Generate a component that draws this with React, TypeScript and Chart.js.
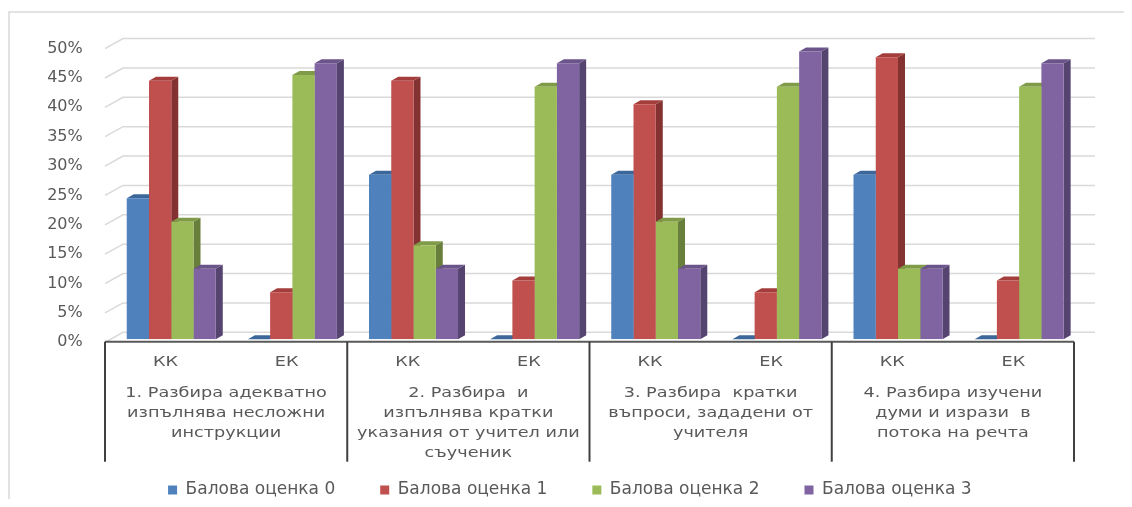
import React, { useEffect, useRef } from 'react';
import { Chart, registerables } from 'chart.js';

Chart.register(...registerables);

// ---------- data ----------
const subCategories = ['КК', 'ЕК', 'КК', 'ЕК', 'КК', 'ЕК', 'КК', 'ЕК'];
const groupLabels = [
  ['1. Разбира адекватно', 'изпълнява несложни', 'инструкции'],
  ['2. Разбира  и', 'изпълнява кратки', 'указания от учител или', 'съученик'],
  ['3. Разбира  кратки', 'въпроси, зададени от', 'учителя'],
  ['4. Разбира изучени', 'думи и изрази  в', 'потока на речта'],
];
const seriesNames = ['Балова оценка 0', 'Балова оценка 1', 'Балова оценка 2', 'Балова оценка 3'];
const score0 = [0.24, 0.0, 0.28, 0.0, 0.28, 0.0, 0.28, 0.0];
const score1 = [0.44, 0.08, 0.44, 0.1, 0.4, 0.08, 0.48, 0.1];
const score2 = [0.2, 0.45, 0.16, 0.43, 0.2, 0.43, 0.12, 0.43];
const score3 = [0.12, 0.47, 0.12, 0.47, 0.12, 0.49, 0.12, 0.47];
const yMin = 0;
const yMax = 0.5;
const yStep = 0.05;

// ---------- styles ----------
const frontColors = ['#4F81BD', '#C0504D', '#9BBB59', '#8064A2'];
const sideColors = ['#3A6290', '#843231', '#687E3B', '#55446F'];
const topColors = ['#3B679B', '#A33E3C', '#7F9B48', '#6A5489'];
const FONT = "'DejaVu Sans', sans-serif";
const TEXT = '#595959';
const DEPTH_X = 7;
const DEPTH_Y = 4;
const FRONT_DX = -5.7;
const FRONT_DY = 3;
const BACK_DX = 12.3;
const BACK_DY = -7;
const TEXT_SX = 1.26;
const LEGEND_PAD = 45;
const LEGEND_FONT = 17;
const LEGEND_SHIFT = 26;
const PAD_RIGHT = 44.3;
const AREA_LEFT = 102.7;

const threeD = {
  id: 'threeD',
  afterLayout(chart: any) {
    const lg = chart.legend;
    if (lg) {
      lg.left += LEGEND_SHIFT;
      lg.right += LEGEND_SHIFT;
    }
  },
  beforeDraw(chart: any) {
    const { ctx, width, height } = chart;
    ctx.save();
    ctx.strokeStyle = '#D9D9D9';
    ctx.lineWidth = 1.5;
    ctx.beginPath();
    ctx.moveTo(1, height + 5);
    ctx.lineTo(1, 4);
    ctx.lineTo(width + 5, 4);
    ctx.stroke();
    ctx.restore();
  },
  beforeDatasetsDraw(chart: any) {
    const { ctx, chartArea: a } = chart;
    const ys = chart.scales.y;
    ctx.save();
    ctx.strokeStyle = '#D9D9D9';
    ctx.lineWidth = 1.5;
    ys.ticks.forEach((t: any) => {
      const py = ys.getPixelForValue(t.value);
      ctx.beginPath();
      ctx.moveTo(a.left + FRONT_DX, py + FRONT_DY);
      ctx.lineTo(a.left + BACK_DX, py + BACK_DY);
      ctx.lineTo(a.right + BACK_DX + 3, py + BACK_DY);
      ctx.stroke();
    });
    const n = chart.data.labels.length;
    for (let ci = 0; ci < n; ci++) {
      chart.data.datasets.forEach((ds: any, di: number) => {
        const meta = chart.getDatasetMeta(di);
        const bar: any = meta.data[ci];
        if (!bar) return;
        const { x, y, base, width } = bar.getProps(['x', 'y', 'base', 'width'], true);
        const l = x - width / 2;
        const r = x + width / 2;
        ctx.fillStyle = sideColors[di];
        ctx.beginPath();
        ctx.moveTo(r, y);
        ctx.lineTo(r + DEPTH_X, y - DEPTH_Y);
        ctx.lineTo(r + DEPTH_X, base - DEPTH_Y);
        ctx.lineTo(r, base);
        ctx.closePath();
        ctx.fill();
        ctx.fillStyle = topColors[di];
        ctx.beginPath();
        ctx.moveTo(l, y);
        ctx.lineTo(l + DEPTH_X, y - DEPTH_Y);
        ctx.lineTo(r + DEPTH_X, y - DEPTH_Y);
        ctx.lineTo(r, y);
        ctx.closePath();
        ctx.fill();
      });
    }
    ctx.restore();
  },
  afterDraw(chart: any) {
    const { ctx, chartArea: a } = chart;
    const xs = chart.scales.x;
    const n = chart.data.labels.length;
    const catW = xs.getPixelForValue(1) - xs.getPixelForValue(0);
    const base = a.bottom + 2.4;
    const boxBottom = a.bottom + 122.4;
    ctx.save();
    ctx.strokeStyle = '#595959';
    ctx.lineWidth = 2;
    const left = xs.getPixelForValue(0) - catW / 2 + FRONT_DX;
    const right = xs.getPixelForValue(n - 1) + catW / 2 + FRONT_DX;
    ctx.beginPath();
    ctx.moveTo(left, base);
    ctx.lineTo(right, base);
    ctx.stroke();
    ctx.strokeStyle = '#404040';
    const seps: number[] = [];
    for (let k = 0; k <= groupLabels.length; k++) {
      const sx = left + k * 2 * catW;
      seps.push(sx);
      ctx.beginPath();
      ctx.moveTo(sx, base);
      ctx.lineTo(sx, boxBottom);
      ctx.stroke();
    }
    ctx.fillStyle = TEXT;
    ctx.font = `14px ${FONT}`;
    ctx.textAlign = 'center';
    ctx.textBaseline = 'middle';
    const put = (s: string, cx: number, cy: number) => {
      ctx.save();
      ctx.translate(cx, cy);
      ctx.scale(TEXT_SX, 1);
      ctx.fillText(s, 0, 0);
      ctx.restore();
    };
    subCategories.forEach((s, i) => {
      put(s, xs.getPixelForValue(i) + FRONT_DX, a.bottom + 23);
    });
    groupLabels.forEach((lines, k) => {
      const cx = (seps[k] + seps[k + 1]) / 2;
      lines.forEach((ln, j) => put(ln, cx, a.bottom + 54 + j * 20));
    });
    ctx.restore();
  },
};

export default function App() {
  const ref = useRef<HTMLCanvasElement | null>(null);
  useEffect(() => {
    if (!ref.current) return;
    const seriesValues = [score0, score1, score2, score3];
    const H = 491;
    const areaBottom = 331.3;
    const legendCenter = 482;
    const legendTop = legendCenter - LEGEND_PAD - LEGEND_FONT / 2;
    const chart = new Chart(ref.current, {
      type: 'bar',
      data: {
        labels: subCategories,
        datasets: seriesValues.map((vals, i) => ({
          label: seriesNames[i],
          data: vals,
          backgroundColor: frontColors[i],
          borderWidth: 0,
          categoryPercentage: 0.735,
          barPercentage: 1,
        })),
      },
      options: {
        animation: false,
        responsive: true,
        maintainAspectRatio: false,
        layout: { padding: { top: 36, right: PAD_RIGHT, left: 0, bottom: 0 } },
        plugins: {
          tooltip: { enabled: false },
          legend: {
            position: 'bottom',
            maxHeight: H - legendTop,
            labels: {
              boxWidth: 9,
              boxHeight: 9,
              padding: LEGEND_PAD,
              color: TEXT,
              font: { family: FONT, size: LEGEND_FONT },
            },
          },
        },
        scales: {
          x: {
            grid: { display: false },
            border: { display: false },
            ticks: { display: false },
            afterFit: (s: any) => {
              s.height = legendTop - areaBottom;
            },
          },
          y: {
            min: yMin,
            max: yMax,
            grid: { display: false, drawTicks: false },
            border: { display: false },
            ticks: {
              stepSize: yStep,
              padding: 28,
              labelOffset: 3,
              color: TEXT,
              font: { family: FONT, size: 16 },
              callback: (v: any) => `${Math.round(Number(v) * 100)}%`,
            },
            afterFit: (s: any) => {
              s.width = AREA_LEFT;
            },
          },
        },
      },
      plugins: [threeD],
    });
    return () => chart.destroy();
  }, []);
  return (
    <div style={{ position: 'relative', width: '1116px', height: '491px' }}>
      <canvas ref={ref} />
    </div>
  );
}
